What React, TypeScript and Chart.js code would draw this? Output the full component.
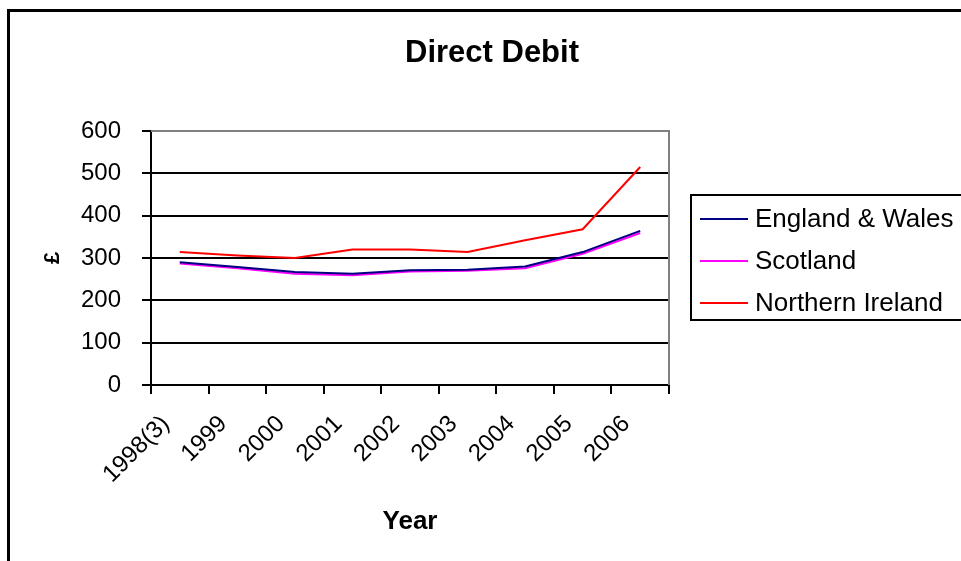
import React, { useEffect, useRef } from "react";
import { Chart, registerables } from "chart.js";

Chart.register(...registerables);

const categories = ["1998(3)", "1999", "2000", "2001", "2002", "2003", "2004", "2005", "2006"];
const englandWales = [290, 279, 267, 263, 271, 272, 280, 314, 364];
const scotland = [287, 276, 263, 259, 268, 270, 276, 310, 359];
const northernIreland = [314, 306, 300, 320, 320, 314, 342, 368, 515];
const seriesNames = ["England & Wales", "Scotland", "Northern Ireland"];
const seriesColors = ["#000080", "#FF00FF", "#FF0000"];
const chartTitle = "Direct Debit";
const xTitle = "Year";
const yTitle = "£";

const FONT = "'Liberation Sans', Arial, sans-serif";

const decorPlugin = {
  id: "decor",
  afterDatasetsDraw(chart: any) {
    const { ctx, chartArea } = chart;
    ctx.save();
    ctx.strokeStyle = "#808080";
    ctx.lineWidth = 2;
    ctx.beginPath();
    ctx.moveTo(chartArea.left, chartArea.top);
    ctx.lineTo(chartArea.right, chartArea.top);
    ctx.lineTo(chartArea.right, chartArea.bottom);
    ctx.stroke();
    ctx.restore();
  },
  afterDraw(chart: any) {
    const { ctx } = chart;
    ctx.save();
    ctx.strokeStyle = "#000";
    ctx.lineWidth = 3;
    ctx.strokeRect(8.5, 10.5, 1000, 600);
    ctx.fillStyle = "#000";
    ctx.font = `bold 31px ${FONT}`;
    ctx.textAlign = "center";
    ctx.textBaseline = "middle";
    ctx.fillText(chartTitle, 492, 53);
    ctx.strokeStyle = "#000";
    ctx.lineWidth = 2;
    ctx.strokeRect(691, 195, 300, 125);
    const ys = [219, 261, 303];
    ctx.font = `26px ${FONT}`;
    ctx.textAlign = "left";
    chart.data.datasets.forEach((ds: any, i: number) => {
      ctx.strokeStyle = ds.borderColor;
      ctx.lineWidth = 2;
      ctx.beginPath();
      ctx.moveTo(700, ys[i]);
      ctx.lineTo(748, ys[i]);
      ctx.stroke();
      ctx.fillStyle = "#000";
      ctx.fillText(ds.label, 755, ys[i] + 1);
    });
    ctx.restore();
  },
};

export default function App() {
  const ref = useRef<HTMLCanvasElement | null>(null);
  useEffect(() => {
    if (!ref.current) return;
    const chart = new Chart(ref.current, {
      type: "line",
      data: {
        labels: categories,
        datasets: [
          { label: seriesNames[0], data: englandWales, borderColor: seriesColors[0], backgroundColor: seriesColors[0], borderWidth: 2, pointRadius: 0, tension: 0 },
          { label: seriesNames[1], data: scotland, borderColor: seriesColors[1], backgroundColor: seriesColors[1], borderWidth: 2, pointRadius: 0, tension: 0 },
          { label: seriesNames[2], data: northernIreland, borderColor: seriesColors[2], backgroundColor: seriesColors[2], borderWidth: 2, pointRadius: 0, tension: 0 },
        ],
      },
      options: {
        responsive: false,
        animation: false,
        devicePixelRatio: 1,
        layout: { padding: { left: 40, top: 131, right: 292, bottom: 24 } },
        plugins: {
          legend: { display: false },
          title: { display: false },
          tooltip: { enabled: false },
        },
        scales: {
          x: {
            offset: true,
            grid: { offset: true, drawOnChartArea: false, drawTicks: true, tickLength: 9, color: "#000", lineWidth: 2 },
            border: { color: "#000", width: 2 },
            ticks: {
              autoSkip: false,
              maxRotation: 45,
              minRotation: 45,
              padding: 16,
              labelOffset: -14,
              color: "#000",
              font: { family: FONT, size: 24 },
            },
            title: { display: true, text: xTitle, color: "#000", padding: 0, font: { family: FONT, size: 26, weight: "bold" } },
            afterFit: (s: any) => { s.height = 152; },
          },
          y: {
            min: 0,
            max: 600,
            grid: { color: "#000", lineWidth: 2, tickLength: 9, drawTicks: true },
            border: { color: "#000", width: 2 },
            ticks: { stepSize: 100, padding: 21, color: "#000", font: { family: FONT, size: 24 } },
            title: { display: true, text: yTitle, color: "#000", padding: 0, font: { family: FONT, size: 22, weight: "bold" } },
            afterFit: (s: any) => { s.width = 111; },
          },
        },
      },
      plugins: [decorPlugin],
    } as any);
    return () => chart.destroy();
  }, []);
  return (
    <div style={{ position: "fixed", left: 0, top: 0, width: 961, height: 561, background: "#fff" }}>
      <canvas ref={ref} width={961} height={561} style={{ width: 961, height: 561, display: "block" }} />
    </div>
  );
}
